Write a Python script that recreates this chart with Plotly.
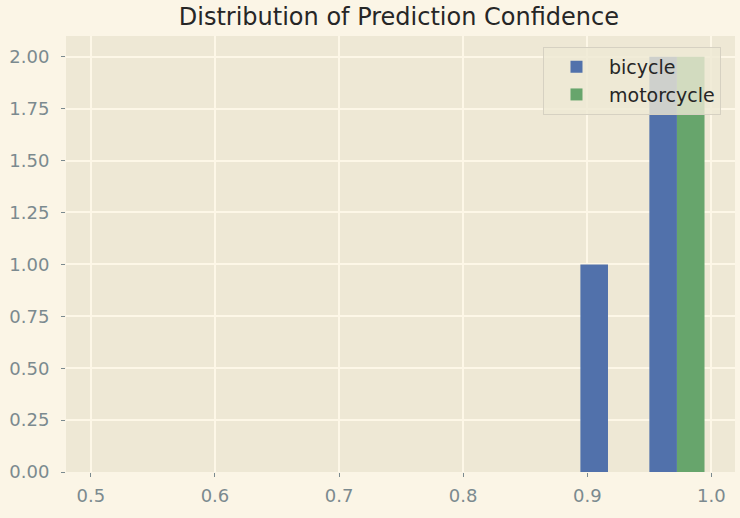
"""Histogram of prediction confidence per class, solarized-light look"""
import plotly.graph_objs as go

# histogram bins (9 bins over 0.5 .. 1.0) and counts per class
bin_edges = [0.5 + i * (0.5 / 9) for i in range(10)]
bicycle_counts = [0, 0, 0, 0, 0, 0, 0, 1, 2]
motorcycle_counts = [0, 0, 0, 0, 0, 0, 0, 0, 2]
x_ticks = [0.5, 0.6, 0.7, 0.8, 0.9, 1.0]
y_ticks = [0, 0.25, 0.5, 0.75, 1.0, 1.25, 1.5, 1.75, 2.0]

bin_centers = [(a + b) / 2 for a, b in zip(bin_edges[:-1], bin_edges[1:])]

tick_color = '#7b8a8f'
grid_color = '#fdf7e7'

fig = go.Figure()
fig.add_trace(go.Bar(
    x=bin_centers, y=bicycle_counts, name='bicycle',
    marker=dict(color='#5171ab', line=dict(width=0)),
))
fig.add_trace(go.Bar(
    x=bin_centers, y=motorcycle_counts, name='motorcycle',
    marker=dict(color='#67a56c', line=dict(width=0)),
))

axis_style = dict(
    showgrid=True, gridcolor=grid_color, gridwidth=1.8, zeroline=False,
    ticks='outside', ticklen=4, tickwidth=1, tickcolor=tick_color,
    tickfont=dict(color=tick_color, size=18), showline=False,
)

fig.update_layout(
    width=740, height=518,
    barmode='group', bargap=0.2, bargroupgap=0,
    paper_bgcolor='#fbf5e6', plot_bgcolor='#eee8d5',
    margin=dict(l=66, r=5, t=36, b=46),
    font=dict(family='DejaVu Sans', size=18, color='#333333'),
    title=dict(text='Distribution of Prediction Confidence', x=0.539, xanchor='center',
               y=0.967, yanchor='middle', font=dict(size=24, color='#262626')),
    legend=dict(x=0.713, y=0.975, xanchor='left', yanchor='top',
                bgcolor='rgba(238,232,213,0.8)', bordercolor='#d6d1c2', borderwidth=1,
                font=dict(size=19, color='#262626'), itemwidth=55,
                tracegroupgap=2),
    xaxis=dict(range=[0.48, 1.019], tickvals=x_ticks, tickformat='.1f',
               ticklabelstandoff=3, **axis_style),
    yaxis=dict(range=[0, 2.1], tickvals=y_ticks, tickformat='.2f',
               ticklabelstandoff=8, **axis_style),
)

fig.write_html("out.html", config={'displayModeBar': False},
               post_script="document.body.style.margin='0';"
                           "document.body.style.background='#fbf5e6';")
